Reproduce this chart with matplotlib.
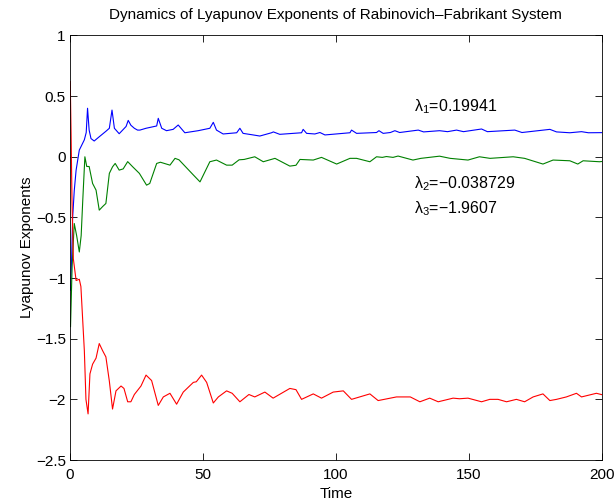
import matplotlib
matplotlib.use("Agg")
import matplotlib.pyplot as plt
from matplotlib.ticker import FixedLocator, FuncFormatter

plt.rcParams['font.family'] = ['Liberation Sans', 'DejaVu Sans']
plt.rcParams['mathtext.default'] = 'regular'

t1 = [0.2, 0.6, 1.0, 1.6, 2.3, 3.5, 5.4, 6.1, 6.6, 7.2, 7.9, 9.1, 11.0, 13.5, 14.8, 15.8, 16.7, 18.5,
      19.8, 21.1, 21.9, 22.9, 24.2, 25.4, 26.3, 28.6, 32.6, 33.2, 34.5, 36.3, 38.8, 40.7, 43.2, 48.2,
      52.6, 53.9, 55.1, 57.6, 62.7, 63.9, 65.1, 68.9, 71.4, 75.8, 76.5, 78.9, 87.1, 87.7, 89.0, 92.1,
      94.0, 95.9, 105.3, 105.9, 107.8, 115.3, 116.2, 117.8, 120.5, 122.2, 124.0, 131.0, 133, 139, 142,
      145.4, 148, 154.8, 157, 167.3, 170, 180.5, 183, 188, 192.4, 195, 200]
lam1 = [-1.1, -0.85, -0.50, -0.28, -0.11, 0.055, 0.14, 0.2, 0.40, 0.22, 0.15, 0.13, 0.165, 0.21, 0.235,
        0.385, 0.235, 0.19, 0.22, 0.25, 0.30, 0.26, 0.235, 0.22, 0.22, 0.235, 0.254, 0.317, 0.235, 0.215,
        0.226, 0.262, 0.198, 0.215, 0.235, 0.284, 0.22, 0.188, 0.198, 0.235, 0.193, 0.18, 0.171, 0.198,
        0.205, 0.185, 0.198, 0.226, 0.193, 0.188, 0.200, 0.180, 0.198, 0.22, 0.193, 0.2, 0.215, 0.193,
        0.2, 0.215, 0.2, 0.22, 0.205, 0.215, 0.207, 0.22, 0.207, 0.229, 0.207, 0.22, 0.2, 0.226, 0.205,
        0.198, 0.207, 0.198, 0.199]

t2 = [0.2, 0.8, 1.6, 2.5, 3.5, 4.2, 4.8, 5.6, 6.3, 7.2, 8.5, 9.8, 11.0, 12.3, 13.5, 14.8, 16.0, 17.0,
      18.5, 20.0, 21.7, 23.6, 26.1, 28.8, 30.0, 32.6, 34.0, 37.6, 39.5, 41.0, 46.4, 48.9, 52.6, 55.1,
      58.9, 61.0, 63.6, 65.5, 69.5, 72.7, 77.1, 82.7, 85.0, 86.5, 91.5, 94.6, 100.3, 105.3, 107.8,
      112.8, 115.3, 117.5, 119, 121.5, 123.4, 129, 132, 139, 143, 149.7, 154, 158, 166.7, 171, 177.9,
      181.7, 188, 191, 193, 199.2, 200]
lam2 = [-1.4, -0.9, -0.55, -0.65, -0.785, -0.65, -0.36, 0.0, -0.08, -0.08, -0.22, -0.275, -0.44, -0.41,
        -0.385, -0.137, -0.083, -0.055, -0.11, -0.10, -0.04, -0.083, -0.137, -0.234, -0.22, -0.055,
        -0.045, -0.069, -0.013, -0.025, -0.15, -0.207, -0.041, -0.027, -0.069, -0.069, -0.025, -0.022,
        0.0, -0.041, -0.013, -0.077, -0.07, -0.022, -0.027, -0.005, -0.06, -0.013, -0.013, -0.041, 0.0,
        -0.005, 0.002, -0.005, 0.006, -0.027, -0.013, 0.005, -0.013, -0.027, 0, -0.013, 0, -0.013,
        -0.06, -0.027, -0.033, -0.06, -0.033, -0.041, -0.039]

t3 = [0.1, 0.4, 0.75, 1.25, 2.3, 3.5, 4.1, 5.4, 6.0, 6.8, 7.5, 8.5, 9.8, 11.0, 12.3, 13.5, 14.8, 16.0,
      17.3, 19.2, 20.3, 21.7, 22.9, 24.2, 26.7, 28.6, 30.7, 33.2, 35.1, 37.6, 40.1, 42.6, 46.4, 47.5,
      49.5, 51.4, 53.9, 55.8, 58.9, 61.0, 63.9, 67.3, 69.5, 73.3, 76.4, 82.7, 85.0, 87.1, 91.5, 94.6,
      99.0, 102.8, 105.9, 112.8, 115.9, 122.8, 128.0, 131.6, 135.3, 138.5, 144.1, 146.5, 149.7, 154.8,
      157.9, 161.0, 164.2, 167.9, 171.0, 174.2, 177.9, 180.5, 183.0, 186.7, 190.5, 192.4, 198.0, 200]
lam3 = [0.62, 0.2, -0.36, -0.84, -1.02, -1.01, -1.07, -1.6, -2.0, -2.12, -1.79, -1.71, -1.66, -1.54,
        -1.6, -1.65, -1.85, -2.08, -1.93, -1.89, -1.91, -2.02, -2.02, -1.96, -1.89, -1.80, -1.845, -2.05,
        -1.98, -1.95, -2.04, -1.94, -1.86, -1.855, -1.80, -1.86, -2.03, -1.98, -1.93, -1.95, -2.02,
        -1.96, -1.98, -1.94, -1.99, -1.91, -1.92, -2.0, -1.955, -1.99, -1.94, -1.93, -2.0, -1.955,
        -2.01, -1.98, -1.98, -2.02, -1.99, -2.02, -1.99, -1.995, -1.99, -2.02, -2.0, -2.0, -2.02, -2.0,
        -2.02, -1.98, -1.955, -2.01, -2.0, -1.98, -1.95, -1.98, -1.95, -1.961]

label_names = ['λ', 'λ', 'λ']
label_subs = ['1', '2', '3']
label_vals = ['=0.19941', '=−0.038729', '=−1.9607']
label_y = [0.41, -0.22, -0.425]
xticks = [0, 50, 100, 150, 200]
yticks = [-2.5, -2, -1.5, -1, -0.5, 0, 0.5, 1]

fig = plt.figure(figsize=(6.14, 5.04), dpi=100)
ax = fig.add_axes([0.114, 0.0873, 0.866, 0.8423])
ax.plot(t1, lam1, color=(0, 0, 1), lw=0.8)
ax.plot(t2, lam2, color=(0, 0.5, 0), lw=0.8)
ax.plot(t3, lam3, color=(1, 0, 0), lw=0.8)

for n, sub, val, yv in zip(label_names, label_subs, label_vals, label_y):
    ax.text(129.5, yv, r'%s$_{\mathregular{%s}}$%s' % (n, sub, val), fontsize=11.5,
            va='center', ha='left')

ax.set_xlim(0, 200)
ax.set_ylim(-2.5, 1)
ax.xaxis.set_major_locator(FixedLocator(xticks))
ax.yaxis.set_major_locator(FixedLocator(yticks))
fmt = FuncFormatter(lambda v, p: ('%g' % v).replace('-', '−'))
ax.xaxis.set_major_formatter(fmt)
ax.yaxis.set_major_formatter(fmt)
ax.tick_params(direction='in', top=True, right=True, labelsize=11, length=5, width=0.6, pad=3)
ax.tick_params(axis='x', pad=6)
for sp in ax.spines.values():
    sp.set_linewidth(0.6)
ax.set_title('Dynamics of Lyapunov Exponents of Rabinovich–Fabrikant System', fontsize=11, pad=12)
ax.set_xlabel('Time', fontsize=11, labelpad=3)
ax.set_ylabel('Lyapunov Exponents', fontsize=11, labelpad=1)

fig.savefig('out.png', dpi=100)
